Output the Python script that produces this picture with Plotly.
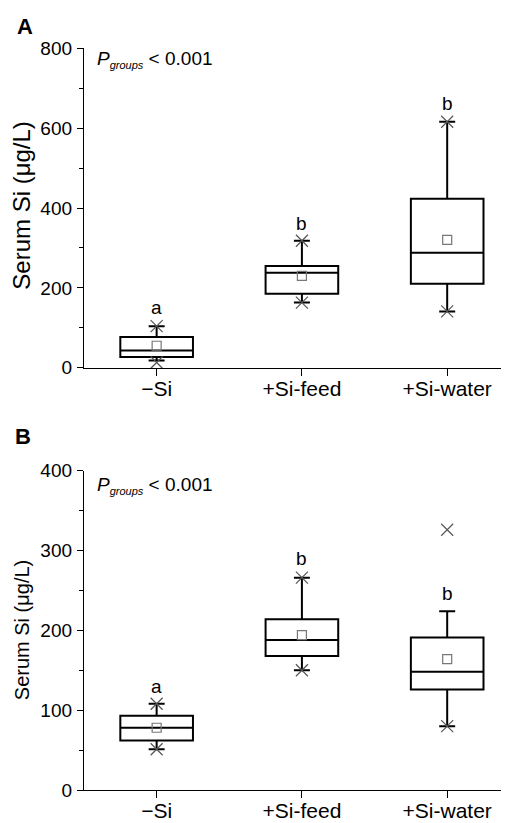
import plotly.graph_objects as go

categories = ["\u2212Si", "+Si-feed", "+Si-water"]
xpos = [1, 2, 3]

# Panel A (serum Si, µg/L)
a_q1 = [27, 185, 210]
a_median = [43, 238, 288]
a_q3 = [77, 255, 423]
a_mean = [55, 230, 320]
a_whisk_lo = [18, 163, 141]
a_whisk_hi = [104, 318, 616]
a_min = [13, 163, 141]
a_max = [104, 318, 616]
a_letters = ["a", "b", "b"]
a_letter_y = [152, 362, 662]

# Panel B
b_q1 = [62, 168, 126]
b_median = [78, 188, 148]
b_q3 = [93, 214, 191]
b_mean = [78, 194, 164]
b_whisk_lo = [51, 150, 80]
b_whisk_hi = [108, 266, 224]
b_min = [51, 150, 80]
b_max = [108, 266, 326]
b_letters = ["a", "b", "b"]
b_letter_y = [130, 290, 246]

FONT = "Arial, Liberation Sans, sans-serif"
OFF = 8  # page body margin
W, H = 509 - OFF, 823 - OFF
ML = 84 - OFF

fig = go.Figure()

def add_panel(xa, ya, q1, med, q3, mean, wlo, whi, mn, mx):
    fig.add_trace(go.Box(
        x=xpos, q1=q1, median=med, q3=q3, lowerfence=wlo, upperfence=whi,
        width=0.5, whiskerwidth=0.22, boxpoints=False,
        line=dict(color="black", width=2), fillcolor="rgba(0,0,0,0)",
        xaxis=xa, yaxis=ya, showlegend=False, hoverinfo="skip"))
    fig.add_trace(go.Scatter(
        x=xpos, y=mean, mode="markers",
        marker=dict(symbol="square-open", size=9, color="#777777", line=dict(width=1.2)),
        xaxis=xa, yaxis=ya, showlegend=False, cliponaxis=False))
    fig.add_trace(go.Scatter(
        x=xpos + xpos, y=mn + mx, mode="markers",
        marker=dict(symbol="x-thin-open", size=12, color="#555555", line=dict(width=1.2, color="#555555")),
        xaxis=xa, yaxis=ya, showlegend=False, cliponaxis=False))

add_panel("x", "y", a_q1, a_median, a_q3, a_mean, a_whisk_lo, a_whisk_hi, a_min, a_max)
add_panel("x2", "y2", b_q1, b_median, b_q3, b_mean, b_whisk_lo, b_whisk_hi, b_min, b_max)

xcommon = dict(range=[0.5, 3.4255], tickvals=xpos, ticktext=categories, ticks="outside",
               ticklen=7, tickwidth=1.3, tickcolor="black", showline=True, linecolor="black",
               linewidth=1.3, showgrid=False, zeroline=False, automargin=False,
               tickfont=dict(family=FONT, size=21, color="black"), ticklabelstandoff=-5)
ycommon = dict(ticks="outside", ticklen=6, tickwidth=1.3, tickcolor="black", showline=True,
               linecolor="black", linewidth=1.3, showgrid=False, zeroline=False, automargin=False,
               tickfont=dict(family=FONT, size=19, color="black"), ticklabelstandoff=1)

def py2d(py):
    return 1 - (py - OFF) / H

fig.update_layout(
    width=W, height=H, margin=dict(l=ML, r=0, t=0, b=0, autoexpand=False),
    paper_bgcolor="white", plot_bgcolor="white", showlegend=False,
    xaxis=dict(domain=[0, 1], anchor="y", **xcommon),
    xaxis2=dict(domain=[0, 1], anchor="y2", **xcommon),
    yaxis=dict(domain=[py2d(367.7), py2d(48.3)], anchor="x", range=[0, 800],
               tickvals=[0, 200, 400, 600, 800],
               minor=dict(tickvals=[100, 300, 500, 700], ticks="outside", ticklen=4,
                          tickcolor="black", tickwidth=1.3), **ycommon),
    yaxis2=dict(domain=[py2d(790), py2d(470.7)], anchor="x2", range=[0, 400],
                tickvals=[0, 100, 200, 300, 400],
                minor=dict(tickvals=[50, 150, 250, 350], ticks="outside", ticklen=4,
                           tickcolor="black", tickwidth=1.3), **ycommon),
)

PW = W - ML

def px2x(px):
    return (px - OFF - ML) / PW

ann = []
for xa, ya, letters, ly in [("x", "y", a_letters, a_letter_y), ("x2", "y2", b_letters, b_letter_y)]:
    for xi, t, yv in zip(xpos, letters, ly):
        ann.append(dict(x=xi, y=yv, xref=xa, yref=ya, text=t, showarrow=False,
                        font=dict(family=FONT, size=19, color="black"),
                        xanchor="center", yanchor="middle"))

ptxt = "<i>P</i><sub><span style='font-size:11px'><i>groups</i></span></sub> &lt; 0.001"
for lab, lx, ly, py, tsize, tcy in [("A", 25, 27, 60, 24, 205), ("B", 23, 437, 486, 20, 630.5)]:
    ann.append(dict(x=px2x(lx), y=py2d(ly), xref="paper", yref="paper", text="<b>%s</b>" % lab,
                    showarrow=False, font=dict(family=FONT, size=22, color="black"),
                    xanchor="center", yanchor="middle"))
    ann.append(dict(x=px2x(95), y=py2d(py), xref="paper", yref="paper", text=ptxt,
                    showarrow=False, font=dict(family=FONT, size=19, color="black"),
                    xanchor="left", yanchor="middle"))
    ann.append(dict(x=px2x(21.7), y=py2d(tcy), xref="paper", yref="paper",
                    text="Serum Si (\u03bcg/L)", textangle=-90, showarrow=False,
                    font=dict(family=FONT, size=tsize, color="black"),
                    xanchor="center", yanchor="middle"))

fig.update_layout(annotations=ann)
fig.write_html("out.html")
